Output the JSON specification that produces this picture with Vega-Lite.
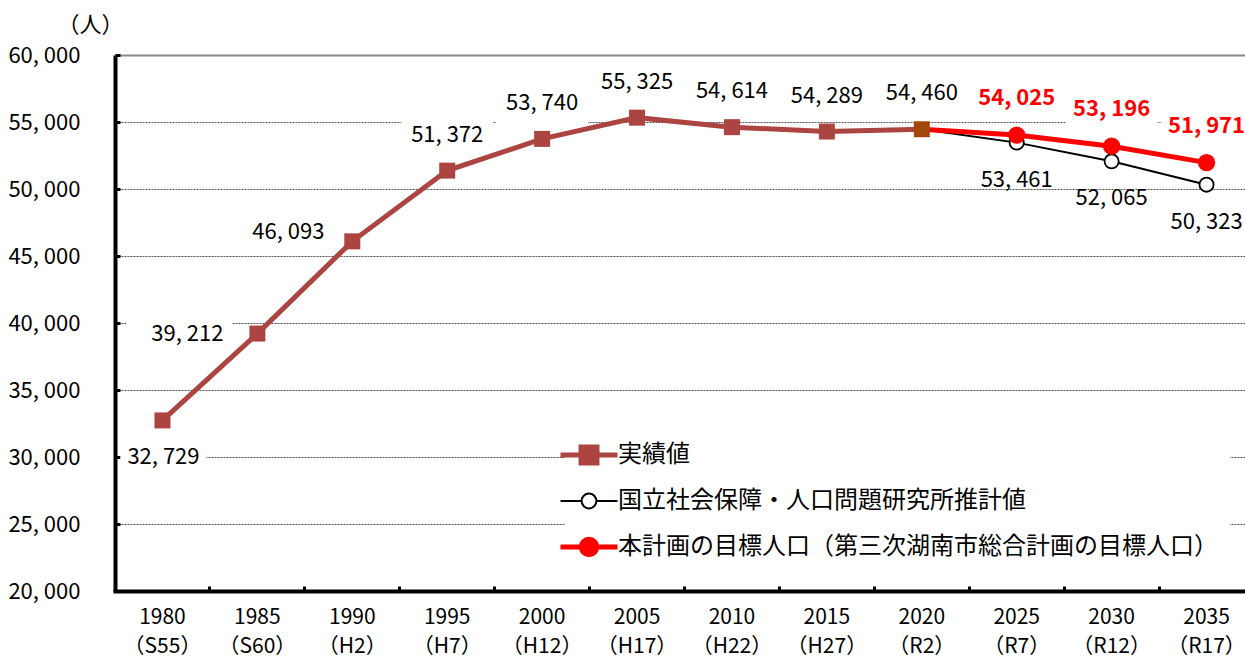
{
  "$schema": "https://vega.github.io/schema/vega-lite/v6.json",
  "width": 1130,
  "height": 536,
  "autosize": {"type": "none"},
  "padding": {"left": 115, "top": 55, "right": 0, "bottom": 67},
  "background": "white",
  "config": {
    "view": {"stroke": null},
    "font": "Noto Sans CJK JP",
    "locale": {"number": {"decimal": ".", "thousands": ", ", "grouping": [3], "currency": ["", ""]}}
  },
  "data": {
    "values": [
      {"year": 1980, "period": "1980|（S55）", "series": "実績値", "value": 32729},
      {"year": 1985, "period": "1985|（S60）", "series": "実績値", "value": 39212},
      {"year": 1990, "period": "1990|（H2）", "series": "実績値", "value": 46093},
      {"year": 1995, "period": "1995|（H7）", "series": "実績値", "value": 51372},
      {"year": 2000, "period": "2000|（H12）", "series": "実績値", "value": 53740},
      {"year": 2005, "period": "2005|（H17）", "series": "実績値", "value": 55325},
      {"year": 2010, "period": "2010|（H22）", "series": "実績値", "value": 54614},
      {"year": 2015, "period": "2015|（H27）", "series": "実績値", "value": 54289},
      {"year": 2020, "period": "2020|（R2）", "series": "実績値", "value": 54460},
      {"year": 2020, "period": "2020|（R2）", "series": "国立社会保障・人口問題研究所推計値", "value": 54460},
      {"year": 2025, "period": "2025|（R7）", "series": "国立社会保障・人口問題研究所推計値", "value": 53461},
      {"year": 2030, "period": "2030|（R12）", "series": "国立社会保障・人口問題研究所推計値", "value": 52065},
      {"year": 2035, "period": "2035|（R17）", "series": "国立社会保障・人口問題研究所推計値", "value": 50323},
      {"year": 2020, "period": "2020|（R2）", "series": "本計画の目標人口（第三次湖南市総合計画の目標人口）", "value": 54460},
      {"year": 2025, "period": "2025|（R7）", "series": "本計画の目標人口（第三次湖南市総合計画の目標人口）", "value": 54025},
      {"year": 2030, "period": "2030|（R12）", "series": "本計画の目標人口（第三次湖南市総合計画の目標人口）", "value": 53196},
      {"year": 2035, "period": "2035|（R17）", "series": "本計画の目標人口（第三次湖南市総合計画の目標人口）", "value": 51971}
    ]
  },
  "encoding": {
    "x": {
      "field": "period", "type": "ordinal",
      "sort": ["1980|（S55）", "1985|（S60）", "1990|（H2）", "1995|（H7）", "2000|（H12）", "2005|（H17）", "2010|（H22）", "2015|（H27）", "2020|（R2）", "2025|（R7）", "2030|（R12）", "2035|（R17）"],
      "scale": {"type": "band", "range": [0, 1139], "paddingInner": 0, "paddingOuter": 0},
      "axis": {
        "title": null, "labelExpr": "split(datum.label, '|')", "labelAngle": 0,
        "labelFont": "Noto Sans CJK JP", "labelFontSize": 21, "labelColor": "black",
        "labelPadding": 20, "labelLineHeight": 29, "labelBaseline": "top",
        "domainColor": "black", "domainWidth": 4, "domainCap": "square",
        "tickColor": "black", "tickSize": -5, "tickWidth": 3, "bandPosition": 0, "grid": false
      }
    },
    "y": {
      "field": "value", "type": "quantitative",
      "scale": {"domain": [20000, 60000], "nice": false, "zero": false},
      "axis": {
        "title": "（人）", "titleAngle": 0, "titleX": -25, "titleY": -31, "titleAlign": "center", "titleBaseline": "middle",
        "titleFont": "Noto Sans CJK JP", "titleFontSize": 22, "titleFontWeight": "normal", "titleColor": "black",
        "values": [20000, 25000, 30000, 35000, 40000, 45000, 50000, 55000, 60000],
        "labelExpr": "format(datum.value, ',.0f')",
        "labelFont": "Noto Sans CJK JP", "labelFontSize": 22, "labelColor": "black", "labelPadding": 40,
        "domainColor": "black", "domainWidth": 4,
        "tickColor": "black", "tickSize": -5, "tickWidth": 3,
        "grid": true,
        "gridColor": {"condition": {"test": "datum.value === 60000", "value": "#888888"}, "value": "#222222"},
        "gridDash": {"condition": {"test": "datum.value === 60000", "value": []}, "value": [2, 1]},
        "gridWidth": {"condition": {"test": "datum.value === 60000", "value": 2}, "value": 0.8}
      }
    }
  },
  "layer": [
    {
      "transform": [{"filter": "datum.series === '実績値' && datum.year >= 1995"}],
      "mark": {"type": "point", "shape": "M-0.92,-1.04L0.92,-1.04L0.92,-0.3L-0.92,-0.3Z", "size": 10000, "filled": true, "color": "white", "opacity": 1, "strokeWidth": 0}
    },
    {
      "transform": [{"filter": "datum.series === '本計画の目標人口（第三次湖南市総合計画の目標人口）' && datum.year > 2020"}],
      "mark": {"type": "point", "shape": "M-0.92,-1.02L0.92,-1.02L0.92,-0.36L-0.92,-0.36Z", "size": 10000, "filled": true, "color": "white", "opacity": 1, "strokeWidth": 0}
    },
    {
      "transform": [{"filter": "datum.series === '実績値' && datum.year === 1980"}],
      "mark": {"type": "point", "shape": "M-0.84,0.46L0.88,0.46L0.88,1.12L-0.84,1.12Z", "size": 10000, "filled": true, "color": "white", "opacity": 1, "strokeWidth": 0}
    },
    {
      "transform": [{"filter": "datum.series === '実績値' && datum.year === 1985"}],
      "mark": {"type": "point", "shape": "M-2.62,-0.3L-0.5,-0.3L-0.5,0.3L-2.62,0.3Z", "size": 10000, "filled": true, "color": "white", "opacity": 1, "strokeWidth": 0}
    },
    {
      "transform": [{"filter": "datum.series === '国立社会保障・人口問題研究所推計値'"}],
      "mark": {"type": "line", "strokeWidth": 2},
      "encoding": {
        "color": {
          "field": "series", "type": "nominal",
          "scale": {
            "domain": ["実績値", "国立社会保障・人口問題研究所推計値", "本計画の目標人口（第三次湖南市総合計画の目標人口）"],
            "range": ["#AC4541", "black", "#FF0000"]
          },
          "legend": {
            "title": null, "orient": "none", "legendX": 450, "legendY": 376, "direction": "vertical",
            "fillColor": "white", "padding": 12, "symbolSize": 3249, "rowPadding": 16,
            "labelFont": "Noto Sans CJK JP", "labelFontSize": 24, "labelColor": "black", "labelOffset": 17, "labelLimit": 1000,
            "encode": {
              "symbols": {
                "update": {
                  "shape": {"signal": "datum.value === '実績値' ? 'M-1,0L-0.28,0M0.28,0L1,0M-0.28,-0.28L0.28,-0.28L0.28,0.28L-0.28,0.28Z' : (datum.value === '国立社会保障・人口問題研究所推計値' ? 'M-1,0L-0.26,0M0.26,0L1,0M0.26,0A0.26,0.26,0,1,1,-0.26,0A0.26,0.26,0,1,1,0.26,0Z' : 'M-1,0L-0.27,0M0.27,0L1,0M0.27,0A0.27,0.27,0,1,1,-0.27,0A0.27,0.27,0,1,1,0.27,0Z')"},
                  "fill": {"signal": "datum.value === '実績値' ? '#AC4541' : (datum.value === '国立社会保障・人口問題研究所推計値' ? 'white' : '#FF0000')"},
                  "stroke": {"signal": "datum.value === '実績値' ? '#AC4541' : (datum.value === '国立社会保障・人口問題研究所推計値' ? 'black' : '#FF0000')"},
                  "strokeWidth": {"signal": "datum.value === '国立社会保障・人口問題研究所推計値' ? 2 : 5"},
                  "opacity": {"value": 1},
                  "size": {"value": 3249}
                }
              }
            }
          }
        }
      }
    },
    {
      "transform": [{"filter": "datum.series === '国立社会保障・人口問題研究所推計値' && datum.year > 2020"}],
      "mark": {"type": "point", "shape": "circle", "size": 200, "filled": true, "fill": "white", "stroke": "black", "strokeWidth": 1.8, "opacity": 1}
    },
    {
      "transform": [{"filter": "datum.series === '本計画の目標人口（第三次湖南市総合計画の目標人口）'"}],
      "mark": {"type": "line", "strokeWidth": 5},
      "encoding": {"color": {"field": "series", "type": "nominal"}}
    },
    {
      "transform": [{"filter": "datum.series === '本計画の目標人口（第三次湖南市総合計画の目標人口）' && datum.year > 2020"}],
      "mark": {"type": "point", "shape": "circle", "size": 300, "filled": true, "color": "#FF0000", "opacity": 1}
    },
    {
      "transform": [{"filter": "datum.series === '実績値'"}],
      "mark": {"type": "line", "strokeWidth": 5},
      "encoding": {"color": {"field": "series", "type": "nominal"}}
    },
    {
      "transform": [{"filter": "datum.series === '実績値' && datum.year < 2020"}],
      "mark": {"type": "point", "shape": "square", "size": 256, "filled": true, "color": "#AC4541", "opacity": 1}
    },
    {
      "transform": [{"filter": "datum.series === '実績値' && datum.year === 2020"}],
      "mark": {"type": "point", "shape": "square", "size": 256, "filled": true, "color": "#A5470A", "opacity": 1}
    },
    {
      "transform": [{"filter": "datum.series === '実績値' && datum.year >= 1995"}],
      "mark": {"type": "text", "dy": -36, "font": "Noto Sans CJK JP", "fontSize": 22, "color": "black", "baseline": "middle"},
      "encoding": {"text": {"field": "value", "type": "quantitative", "format": ","}}
    },
    {
      "transform": [{"filter": "datum.series === '実績値' && datum.year === 1980"}],
      "mark": {"type": "text", "dy": 37, "dx": 1, "font": "Noto Sans CJK JP", "fontSize": 22, "color": "black", "baseline": "middle"},
      "encoding": {"text": {"field": "value", "type": "quantitative", "format": ","}}
    },
    {
      "transform": [{"filter": "datum.series === '実績値' && datum.year === 1985"}],
      "mark": {"type": "text", "dx": -70, "dy": 0, "font": "Noto Sans CJK JP", "fontSize": 22, "color": "black", "baseline": "middle"},
      "encoding": {"text": {"field": "value", "type": "quantitative", "format": ","}}
    },
    {
      "transform": [{"filter": "datum.series === '実績値' && datum.year === 1990"}],
      "mark": {"type": "text", "dx": -64, "dy": -9, "font": "Noto Sans CJK JP", "fontSize": 22, "color": "black", "baseline": "middle"},
      "encoding": {"text": {"field": "value", "type": "quantitative", "format": ","}}
    },
    {
      "transform": [{"filter": "datum.series === '国立社会保障・人口問題研究所推計値' && datum.year > 2020"}],
      "mark": {"type": "text", "dy": 37, "font": "Noto Sans CJK JP", "fontSize": 22, "color": "black", "baseline": "middle"},
      "encoding": {"text": {"field": "value", "type": "quantitative", "format": ","}}
    },
    {
      "transform": [{"filter": "datum.series === '本計画の目標人口（第三次湖南市総合計画の目標人口）' && datum.year > 2020"}],
      "mark": {"type": "text", "dy": -37, "font": "Noto Sans CJK JP", "fontSize": 22, "fontWeight": "bold", "color": "#FF0000", "baseline": "middle"},
      "encoding": {"text": {"field": "value", "type": "quantitative", "format": ","}}
    }
  ]
}
